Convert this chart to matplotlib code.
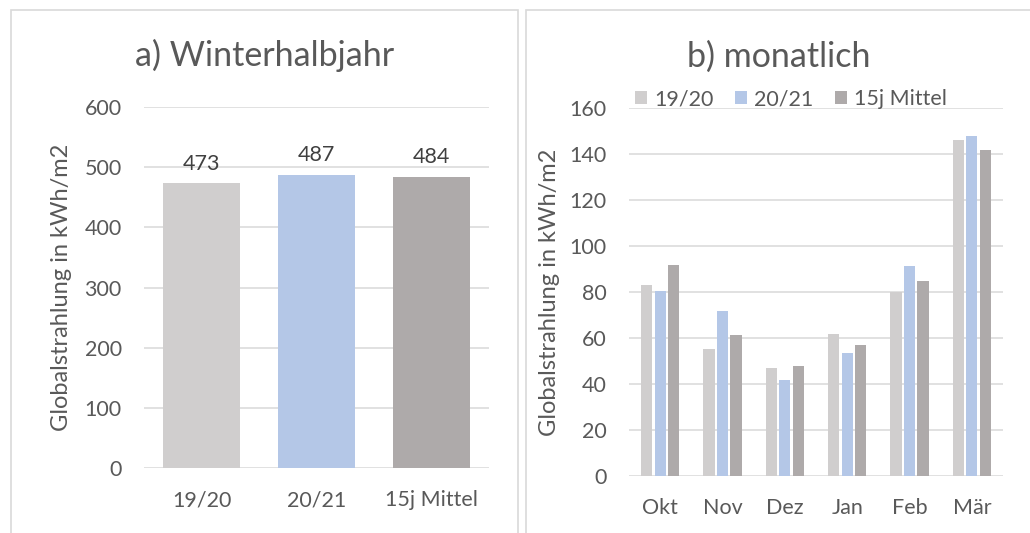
import matplotlib
matplotlib.use("Agg")
import matplotlib.pyplot as plt
from matplotlib.patches import Rectangle
import numpy as np

plt.rcParams['font.family'] = ['Lato', 'DejaVu Sans']

# data
season_cats = ["19/20", "20/21", "15j Mittel"]
season_vals = [473, 487, 484]

months = ["Okt", "Nov", "Dez", "Jan", "Feb", "Mär"]
v1920 = [83.0, 55.1, 47.0, 61.9, 80.0, 146.1]
v2021 = [80.4, 71.7, 41.9, 53.6, 91.4, 148.0]
v15j = [91.9, 61.2, 47.8, 57.0, 84.8, 141.6]
series_names = ["19/20", "20/21", "15j Mittel"]

colors = ["#D0CECE", "#B4C7E7", "#AEAAAA"]
TXT = "#595959"
GRID = "#D9D9D9"
FS = 15.5

W, H = 1030, 533
fig = plt.figure(figsize=(W / 100, H / 100), dpi=100)

def fx(px):
    return px / W

def fy(py):
    return 1 - py / H

# panel borders
fig.patches.append(Rectangle((fx(11), fy(545)), fx(517.5) - fx(11), fy(10) - fy(545),
                             transform=fig.transFigure, fill=False, edgecolor=GRID, lw=1.2))
fig.patches.append(Rectangle((fx(526), fy(545)), fx(1045) - fx(526), fy(10) - fy(545),
                             transform=fig.transFigure, fill=False, edgecolor=GRID, lw=1.2))

def style(ax, ymax, step):
    ax.set_ylim(0, ymax)
    ax.set_yticks(np.arange(0, ymax + 1, step))
    ax.yaxis.grid(True, color=GRID, lw=1.1)
    ax.set_axisbelow(True)
    for s in ax.spines.values():
        s.set_visible(False)
    ax.tick_params(axis='both', length=0, labelsize=FS, labelcolor=TXT)
    ax.tick_params(axis='y', pad=16)
    ax.tick_params(axis='x', pad=16)

# left axes
ax1 = fig.add_axes([fx(144), fy(468), fx(489) - fx(144), fy(107) - fy(468)])
x1 = np.arange(len(season_cats))
bars = ax1.bar(x1, season_vals, width=0.67, color=colors, zorder=2)
ax1.set_xlim(-0.5, 2.5)
style(ax1, 600, 100)
ax1.set_xticks(x1)
ax1.set_xticklabels(season_cats)
ax1.bar_label(bars, labels=[str(v) for v in season_vals], padding=7, fontsize=FS, color="#404040")
fig.text(fx(264.5), fy(55), "a) Winterhalbjahr", ha='center', va='center', fontsize=24.5, color=TXT)
fig.text(fx(62), fy(287.5), "Globalstrahlung in kWh/m2", rotation=90, ha='center', va='center',
         fontsize=17, color=TXT)

# right axes
ax2 = fig.add_axes([fx(629), fy(476), fx(1003) - fx(629), fy(108) - fy(476)])
x2 = np.arange(len(months))
bw = 0.18
off = 0.215
for i, (vals, name) in enumerate(zip([v1920, v2021, v15j], series_names)):
    ax2.bar(x2 + (i - 1) * off, vals, width=bw, color=colors[i], label=name, zorder=2)
ax2.set_xlim(-0.5, 5.5)
style(ax2, 160, 20)
ax2.set_xticks(x2)
ax2.set_xticklabels(months)
fig.text(fx(779), fy(57), "b) monatlich", ha='center', va='center', fontsize=24.5, color=TXT)
fig.text(fx(550), fy(292), "Globalstrahlung in kWh/m2", rotation=90, ha='center', va='center',
         fontsize=17, color=TXT)
leg = fig.legend(loc='center', bbox_to_anchor=(fx(791), fy(99)), ncol=3, frameon=False,
                 fontsize=FS, handlelength=0.55, handleheight=0.55, handletextpad=0.35,
                 columnspacing=1.0, labelcolor=TXT, borderaxespad=0, borderpad=0)

fig.savefig("out.png", dpi=100, facecolor='white')
